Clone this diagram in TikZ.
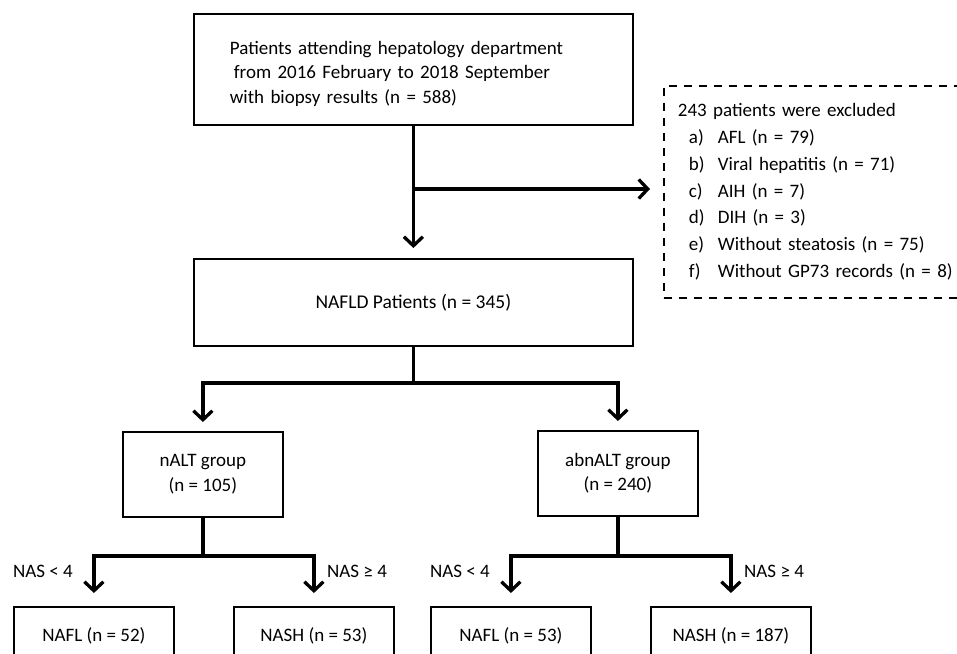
\documentclass[tikz,border=0pt]{standalone}
\usepackage{fontspec}
\setmainfont{Carlito}
\usetikzlibrary{arrows.meta}
\begin{document}
\begin{tikzpicture}[x=1pt,y=-1pt,
  box/.style={draw, line width=1.8pt, inner sep=0pt, font=\fontsize{19}{24.5}\selectfont, align=center},
  conn/.style={line width=3.3pt},
  arr/.style={conn, -{Straight Barb[length=9pt,width=19pt]}, shorten >=10pt},
  lab/.style={font=\fontsize{19}{22}\selectfont, inner sep=0pt}]
\useasboundingbox (0,0) rectangle (957,653);
\clip (0,0) rectangle (957,653);
% boxes
\node[box, anchor=north west, minimum width=439pt, minimum height=111pt, text width=367pt, inner xsep=36pt, align=left] (top) at (193,13)
  {\rule{0pt}{21.5pt}Patients attending hepatology department\\\hspace*{4pt}from 2016 February to 2018 September\\with biopsy results (n = 588)};
\node[box, anchor=north west, minimum width=439pt, minimum height=87pt, font=\fontsize{19.5}{24}\selectfont] (nafld) at (193,258) {NAFLD Patients (n = 345)};
\node[box, anchor=north west, minimum width=160pt, minimum height=85pt] (nalt) at (122,431) {nALT group\\(n = 105)};
\node[box, anchor=north west, minimum width=160pt, minimum height=85pt] (abnalt) at (537,430) {abnALT group\\(n = 240)};
\node[box, anchor=north west, minimum width=160pt, minimum height=58pt] (nafla) at (13,606) {NAFL (n = 52)};
\node[box, anchor=north west, minimum width=160pt, minimum height=58pt] (nasha) at (233,606) {NASH (n = 53)};
\node[box, anchor=north west, minimum width=160pt, minimum height=58pt] (naflb) at (430,606) {NAFL (n = 53)};
\node[box, anchor=north west, minimum width=160pt, minimum height=58pt] (nashb) at (650,606) {NASH (n = 187)};
\node[draw, dash pattern=on 8pt off 7pt, line width=1.8pt, anchor=north west, minimum height=212pt,
      text width=300pt, inner xsep=14pt, inner ysep=0pt, align=left, font=\fontsize{19}{26.8}\selectfont] (excl) at (663,85)
  {243 patients were excluded\\
   \hspace*{11pt}\makebox[29pt][l]{a)}AFL (n = 79)\\
   \hspace*{11pt}\makebox[29pt][l]{b)}Viral hepatitis (n = 71)\\
   \hspace*{11pt}\makebox[29pt][l]{c)}AIH (n = 7)\\
   \hspace*{11pt}\makebox[29pt][l]{d)}DIH (n = 3)\\
   \hspace*{11pt}\makebox[29pt][l]{e)}Without steatosis (n = 75)\\
   \hspace*{11pt}\makebox[29pt][l]{f)}Without GP73 records (n = 8)};
% connectors
\coordinate (ya) at (0,189);
\coordinate (yb) at (0,383);
\coordinate (yc) at (0,556);
\draw[arr] (top.south) -- (nafld.north);
\draw[arr, shorten >=13pt] (top.south |- ya) -- (excl.west |- ya);
\draw[conn] (nafld.south) -- (nafld.south |- yb);
\draw[arr, shorten >=9pt] (nafld.south |- yb) -| (nalt.north);
\draw[arr, shorten >=9pt] (nafld.south |- yb) -| (abnalt.north);
\draw[conn] (nalt.south) -- (nalt.south |- yc);
\draw[arr, shorten >=13pt] (nalt.south |- yc) -| (nafla.north);
\draw[arr, shorten >=13pt] (nalt.south |- yc) -| (nasha.north);
\draw[conn] (abnalt.south) -- (abnalt.south |- yc);
\draw[arr, shorten >=13pt] (abnalt.south |- yc) -| (naflb.north);
\draw[arr, shorten >=13pt] (abnalt.south |- yc) -| (nashb.north);
% labels
\node[lab, anchor=east] (la) at (73,571) {NAS < 4};
\node[lab, anchor=west] (lb) at (327,571) {NAS ≥ 4};
\node[lab, anchor=east] (lc) at (490,571) {NAS < 4};
\node[lab, anchor=west] (ld) at (744,571) {NAS ≥ 4};
\end{tikzpicture}
\end{document}
